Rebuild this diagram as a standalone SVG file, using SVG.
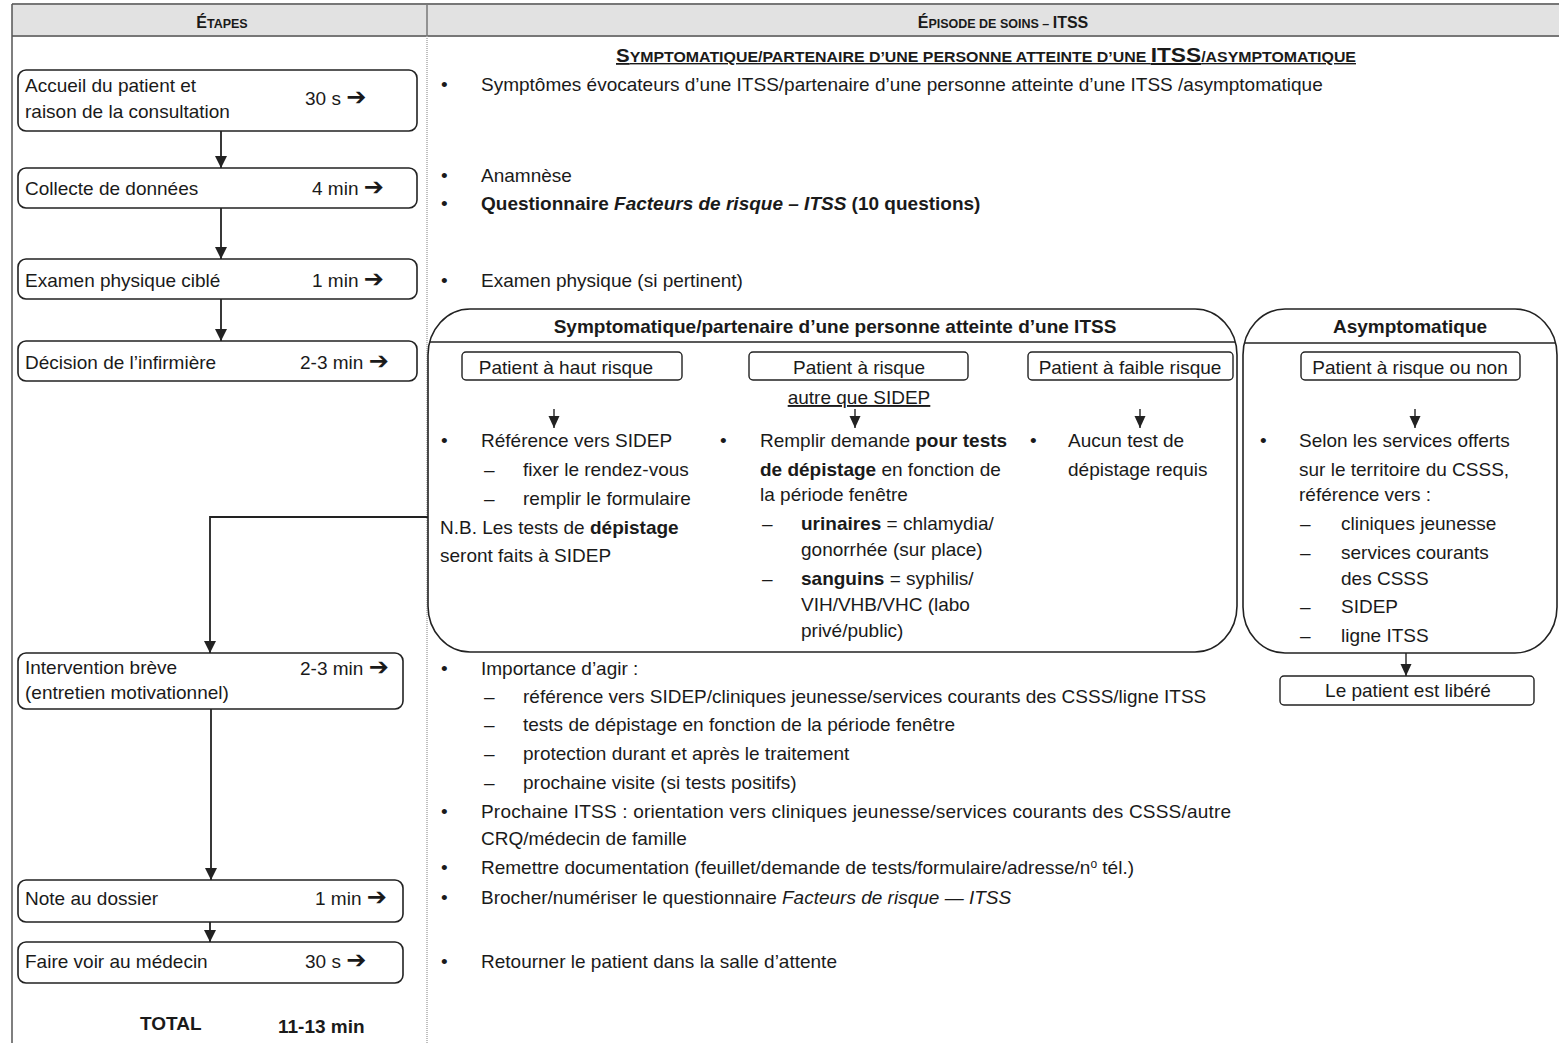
<svg xmlns="http://www.w3.org/2000/svg" width="1559" height="1043" viewBox="0 0 1559 1043">
<style>
text{font-family:"Liberation Sans",Arial,sans-serif;font-size:19px;fill:#1a1a1a}
.b{font-weight:bold}
.i{font-style:italic}
.sc{font-weight:bold;font-size:18px}
.scs{font-size:14px}
.h{font-weight:bold;font-size:16px}
.hs{font-size:12.5px}
.box{fill:#fff;stroke:#222;stroke-width:1.6}
.sbox{fill:#fff;stroke:#222;stroke-width:1.4}
.big{fill:none;stroke:#222;stroke-width:1.6}
.ln{fill:none;stroke:#222;stroke-width:1.8}
.sl{fill:none;stroke:#222;stroke-width:1.4}
.arr{font-family:"DejaVu Sans",sans-serif;font-weight:bold;font-size:24px}
.u{text-decoration:underline}
</style>
<defs>
<marker id="a" viewBox="0 0 12 12" refX="12" refY="6" markerWidth="12" markerHeight="13" markerUnits="userSpaceOnUse" orient="auto">
<path d="M0,0 L12,6 L0,12 z" fill="#222"/>
</marker>
<marker id="s" viewBox="0 0 12 12" refX="12" refY="6" markerWidth="12" markerHeight="12" markerUnits="userSpaceOnUse" orient="auto">
<path d="M0,0.5 L12,6 L0,11.5 z" fill="#222"/>
</marker>
</defs>

<!-- table frame -->
<g id="table">
<rect x="12" y="4" width="1547" height="32" fill="#e2e2e2"/>
<line x1="12" y1="4" x2="1559" y2="4" stroke="#777" stroke-width="2"/>
<line x1="12" y1="36" x2="1559" y2="36" stroke="#777" stroke-width="2"/>
<line x1="12" y1="4" x2="12" y2="1043" stroke="#555" stroke-width="1.5"/>
<line x1="427" y1="4" x2="427" y2="36" stroke="#777" stroke-width="1.5"/>
<line x1="427" y1="36" x2="427" y2="1043" stroke="#aaa" stroke-width="1.5" stroke-dasharray="1 1"/>
<text x="222" y="28" class="h" text-anchor="middle">É<tspan class="hs">TAPES</tspan></text>
<text x="1003" y="28" class="h" text-anchor="middle">É<tspan class="hs">PISODE DE SOINS – </tspan>ITSS</text>
<text x="616" y="62" class="sc u" textLength="740" lengthAdjust="spacingAndGlyphs">S<tspan class="scs">YMPTOMATIQUE/PARTENAIRE D’UNE PERSONNE ATTEINTE D’UNE </tspan><tspan font-size="20">ITSS</tspan><tspan class="scs">/ASYMPTOMATIQUE</tspan></text>
</g>

<!-- left steps -->
<g id="step-accueil">
<rect class="box" x="18" y="70" width="399" height="61" rx="8"/>
<text x="25" y="92">Accueil du patient et</text>
<text x="25" y="118">raison de la consultation</text>
<text x="305" y="105">30 s <tspan class="arr">➔</tspan></text>
</g>
<g id="step-collecte">
<rect class="box" x="18" y="168" width="399" height="40" rx="8"/>
<text x="25" y="195">Collecte de données</text>
<text x="312" y="195">4 min <tspan class="arr">➔</tspan></text>
</g>
<g id="step-examen">
<rect class="box" x="18" y="259" width="399" height="40" rx="8"/>
<text x="25" y="287">Examen physique ciblé</text>
<text x="312" y="287">1 min <tspan class="arr">➔</tspan></text>
</g>
<g id="step-decision">
<rect class="box" x="18" y="341" width="399" height="40" rx="8"/>
<text x="25" y="369">Décision de l’infirmière</text>
<text x="300" y="369">2-3 min <tspan class="arr">➔</tspan></text>
</g>
<g id="step-intervention">
<rect class="box" x="18" y="653" width="385" height="56" rx="8"/>
<text x="25" y="674">Intervention brève</text>
<text x="25" y="699">(entretien motivationnel)</text>
<text x="300" y="675">2-3 min <tspan class="arr">➔</tspan></text>
</g>
<g id="step-note">
<rect class="box" x="18" y="880" width="385" height="42" rx="8"/>
<text x="25" y="905">Note au dossier</text>
<text x="315" y="905">1 min <tspan class="arr">➔</tspan></text>
</g>
<g id="step-medecin">
<rect class="box" x="18" y="942" width="385" height="41" rx="8"/>
<text x="25" y="968">Faire voir au médecin</text>
<text x="305" y="968">30 s <tspan class="arr">➔</tspan></text>
</g>
<g id="total">
<text x="140" y="1030" class="b">TOTAL</text>
<text x="278" y="1033" class="b">11-13 min</text>
</g>

<!-- right column texts -->
<g id="episode-text">
<text x="441" y="91">•</text><text x="481" y="91">Symptômes évocateurs d’une ITSS/partenaire d’une personne atteinte d’une ITSS /asymptomatique</text>
<text x="441" y="182">•</text><text x="481" y="182">Anamnèse</text>
<text x="441" y="210">•</text><text x="481" y="210" class="b">Questionnaire <tspan class="i">Facteurs de risque – ITSS</tspan> (10 questions)</text>
<text x="441" y="287">•</text><text x="481" y="287">Examen physique (si pertinent)</text>
<text x="441" y="675">•</text><text x="481" y="675">Importance d’agir :</text>
<text x="484" y="703">–</text><text x="523" y="703">référence vers SIDEP/cliniques jeunesse/services courants des CSSS/ligne ITSS</text>
<text x="484" y="731">–</text><text x="523" y="731">tests de dépistage en fonction de la période fenêtre</text>
<text x="484" y="760">–</text><text x="523" y="760">protection durant et après le traitement</text>
<text x="484" y="789">–</text><text x="523" y="789">prochaine visite (si tests positifs)</text>
<text x="441" y="818">•</text><text x="481" y="818" textLength="750" lengthAdjust="spacing">Prochaine ITSS : orientation vers cliniques jeunesse/services courants des CSSS/autre</text>
<text x="481" y="845">CRQ/médecin de famille</text>
<text x="441" y="874">•</text><text x="481" y="874">Remettre documentation (feuillet/demande de tests/formulaire/adresse/n<tspan font-size="12" dy="-6">o</tspan><tspan dy="6"> tél.)</tspan></text>
<text x="441" y="904">•</text><text x="481" y="904">Brocher/numériser le questionnaire <tspan class="i">Facteurs de risque — ITSS</tspan></text>
<text x="441" y="968">•</text><text x="481" y="968">Retourner le patient dans la salle d’attente</text>
</g>

<!-- symptomatic box -->
<g id="symptomatique">
<rect class="big" x="428" y="309" width="809" height="343" rx="42" ry="46"/>
<line class="sl" x1="430" y1="342" x2="1235" y2="342"/>
<text x="835" y="333" text-anchor="middle" class="b">Symptomatique/partenaire d’une personne atteinte d’une ITSS</text>
</g>
<g id="haut-risque">
<rect class="sbox" x="462" y="352" width="220" height="28" rx="4"/>
<text x="566" y="374" text-anchor="middle">Patient à haut risque</text>
<text x="441" y="447">•</text><text x="481" y="447">Référence vers SIDEP</text>
<text x="484" y="476">–</text><text x="523" y="476">fixer le rendez-vous</text>
<text x="484" y="505">–</text><text x="523" y="505">remplir le formulaire</text>
<text x="440" y="534">N.B. Les tests de <tspan class="b">dépistage</tspan></text>
<text x="440" y="562">seront faits à SIDEP</text>
</g>
<g id="a-risque">
<rect class="sbox" x="749" y="352" width="219" height="28" rx="4"/>
<text x="859" y="374" text-anchor="middle">Patient à risque</text>
<text x="859" y="404" text-anchor="middle" class="u">autre que SIDEP</text>
<text x="720" y="447">•</text><text x="760" y="447">Remplir demande <tspan class="b">pour tests</tspan></text>
<text x="760" y="476"><tspan class="b">de dépistage</tspan> en fonction de</text>
<text x="760" y="501">la période fenêtre</text>
<text x="762" y="530">–</text><text x="801" y="530"><tspan class="b">urinaires</tspan> = chlamydia/</text>
<text x="801" y="556">gonorrhée (sur place)</text>
<text x="762" y="585">–</text><text x="801" y="585"><tspan class="b">sanguins</tspan> = syphilis/</text>
<text x="801" y="611">VIH/VHB/VHC (labo</text>
<text x="801" y="637">privé/public)</text>
</g>
<g id="faible-risque">
<rect class="sbox" x="1028" y="352" width="205" height="28" rx="4"/>
<text x="1130" y="374" text-anchor="middle">Patient à faible risque</text>
<text x="1030" y="447">•</text><text x="1068" y="447">Aucun test de</text>
<text x="1068" y="476">dépistage requis</text>
</g>

<!-- asymptomatic box -->
<g id="asymptomatique">
<rect class="big" x="1243" y="309" width="314" height="344" rx="42" ry="46"/>
<line class="sl" x1="1245" y1="343" x2="1555" y2="343"/>
<text x="1410" y="333" text-anchor="middle" class="b">Asymptomatique</text>
<rect class="sbox" x="1301" y="352" width="219" height="28" rx="4"/>
<text x="1410" y="374" text-anchor="middle">Patient à risque ou non</text>
<text x="1260" y="447">•</text><text x="1299" y="447">Selon les services offerts</text>
<text x="1299" y="476">sur le territoire du CSSS,</text>
<text x="1299" y="501">référence vers :</text>
<text x="1300" y="530">–</text><text x="1341" y="530">cliniques jeunesse</text>
<text x="1300" y="559">–</text><text x="1341" y="559">services courants</text>
<text x="1341" y="585">des CSSS</text>
<text x="1300" y="613">–</text><text x="1341" y="613">SIDEP</text>
<text x="1300" y="642">–</text><text x="1341" y="642">ligne ITSS</text>
</g>
<g id="libere">
<rect class="sbox" x="1280" y="676" width="254" height="29" rx="4"/>
<text x="1408" y="697" text-anchor="middle">Le patient est libéré</text>
</g>

<!-- connectors -->
<g id="connectors">
<line class="ln" x1="221" y1="131" x2="221" y2="168" marker-end="url(#a)"/>
<line class="ln" x1="221" y1="208" x2="221" y2="259" marker-end="url(#a)"/>
<line class="ln" x1="221" y1="299" x2="221" y2="341" marker-end="url(#a)"/>
<polyline class="ln" points="428,517 210,517 210,653" marker-end="url(#a)"/>
<line class="ln" x1="211" y1="709" x2="211" y2="880" marker-end="url(#a)"/>
<line class="ln" x1="210" y1="922" x2="210" y2="942" marker-end="url(#a)"/>
<line class="sl" x1="554" y1="409" x2="554" y2="428" marker-end="url(#s)"/>
<line class="sl" x1="855" y1="409" x2="855" y2="428" marker-end="url(#s)"/>
<line class="sl" x1="1140" y1="409" x2="1140" y2="428" marker-end="url(#s)"/>
<line class="sl" x1="1415" y1="409" x2="1415" y2="428" marker-end="url(#s)"/>
<line class="sl" x1="1406" y1="653" x2="1406" y2="676" marker-end="url(#s)"/>
</g>
</svg>
